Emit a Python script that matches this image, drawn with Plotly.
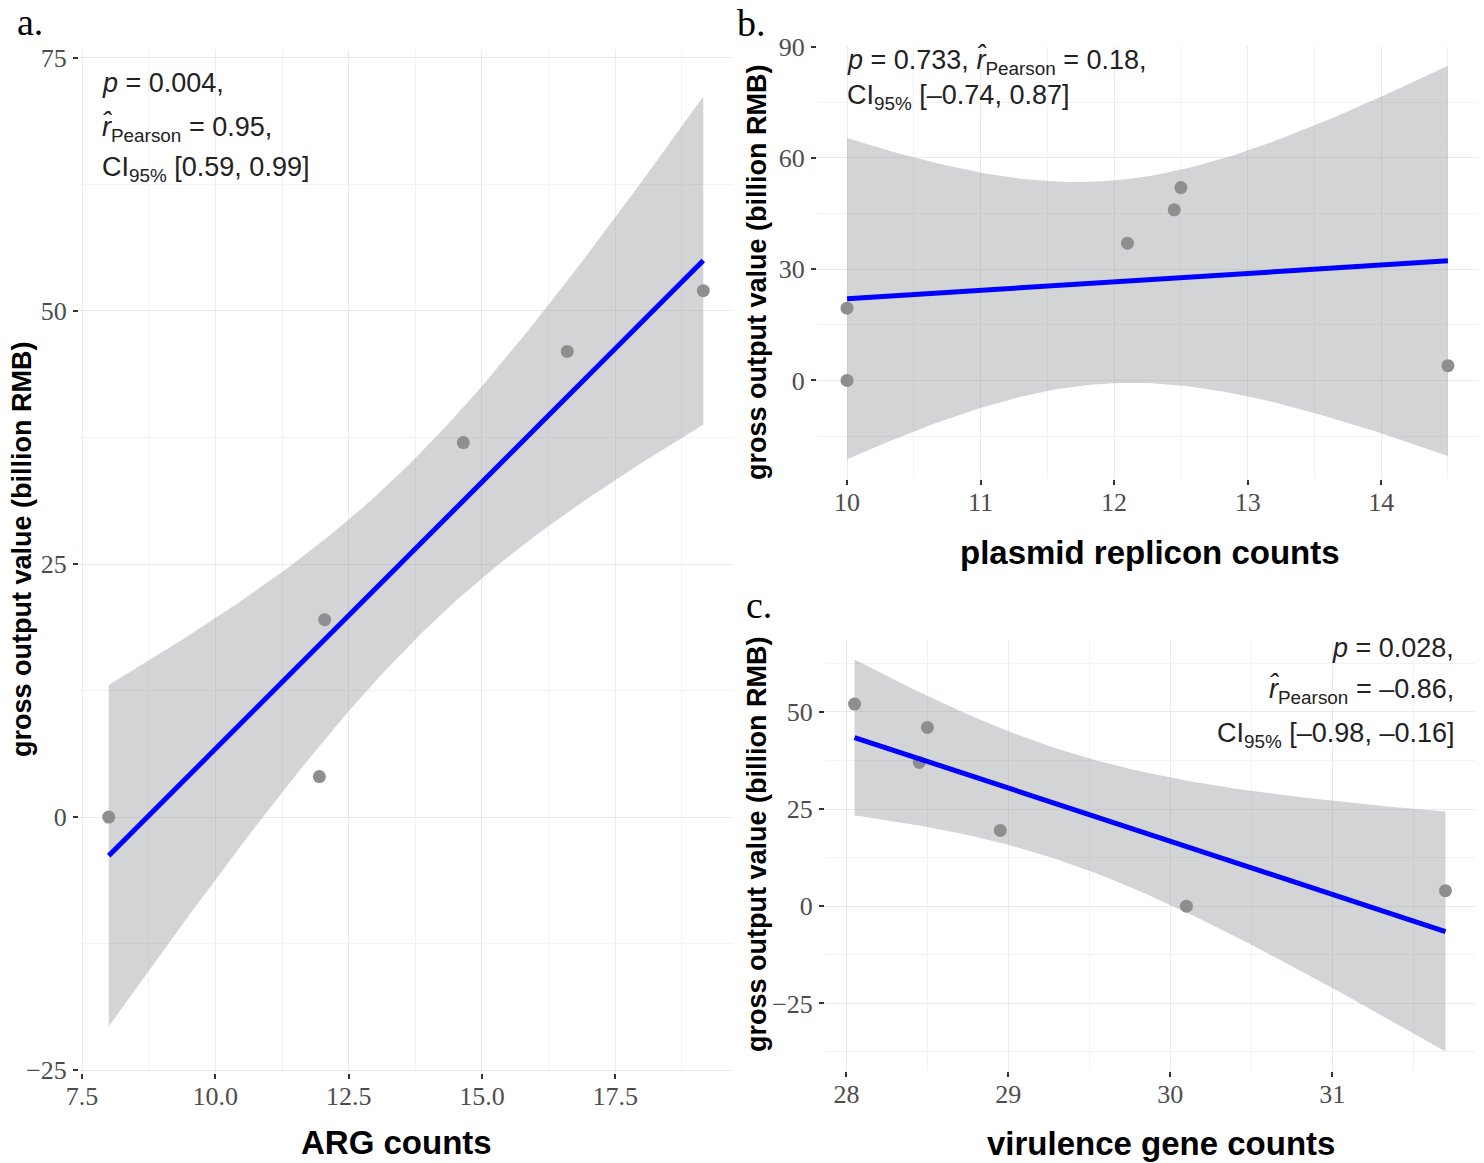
import numpy as np
import plotly.graph_objects as go

# ---------------- data ----------------
gross_output = [0.0, 4.0, 19.5, 37.0, 46.0, 52.0]          # billion RMB
arg_counts = [8.0, 11.95, 12.05, 14.65, 16.6, 19.15]
plasmid_counts = [10.0, 14.5, 10.0, 12.1, 12.45, 12.5]
virulence_counts = [30.1, 31.7, 28.95, 28.45, 28.5, 28.05]

stat_a = ["<i>p</i> = 0.004,",
          "<i>r\u0302</i><sub>Pearson</sub> = 0.95,",
          "CI<sub>95%</sub> [0.59, 0.99]"]
stat_b = ["<i>p</i> = 0.733, <i>r\u0302</i><sub>Pearson</sub> = 0.18,",
          "CI<sub>95%</sub> [\u20130.74, 0.87]"]
stat_c = ["<i>p</i> = 0.028,",
          "<i>r\u0302</i><sub>Pearson</sub> = \u20130.86,",
          "CI<sub>95%</sub> [\u20130.98, \u20130.16]"]

y_title = "gross output value (billion RMB)"
x_titles = ["ARG counts", "plasmid replicon counts", "virulence gene counts"]
panel_labels = ["a.", "b.", "c."]

T_CRIT = 2.776  # t quantile 0.975, df = 4 (n = 6)

W, H = 1484, 1163


def lm_fit(x, y, n=80):
    x = np.asarray(x, float)
    y = np.asarray(y, float)
    b1, b0 = np.polyfit(x, y, 1)
    resid = y - (b0 + b1 * x)
    s = np.sqrt((resid ** 2).sum() / (len(x) - 2))
    xs = np.linspace(x.min(), x.max(), n)
    yh = b0 + b1 * xs
    se = s * np.sqrt(1 / len(x) + (xs - x.mean()) ** 2 / ((x - x.mean()) ** 2).sum())
    return xs, yh, yh - T_CRIT * se, yh + T_CRIT * se


def expand(vals):
    lo, hi = float(np.min(vals)), float(np.max(vals))
    d = 0.05 * (hi - lo)
    return [lo - d, hi + d]


def px_x(p):
    return p / W


def px_y(p):
    return 1 - p / H


fig = go.Figure()

panels = [
    dict(x=arg_counts, ax="", xd=[79, 733], yd=[50, 1073], xdt=2.5, ydt=25, xfmt=".1f"),
    dict(x=plasmid_counts, ax="2", xd=[817, 1478], yd=[46, 479], xdt=1, ydt=30, xfmt=""),
    dict(x=virulence_counts, ax="3", xd=[825, 1475], yd=[640, 1071], xdt=1, ydt=25, xfmt=""),
]

tick_font = dict(family="Liberation Serif", size=26, color="#4D4D4D")
grid_major = "#EBEBEB"
grid_minor = "#F2F2F2"

for p in panels:
    xs, yh, lo, hi = lm_fit(p["x"], gross_output)
    xa = "x" + p["ax"]
    ya = "y" + p["ax"]
    fig.add_trace(go.Scatter(
        x=np.concatenate([xs, xs[::-1]]), y=np.concatenate([hi, lo[::-1]]),
        fill="toself", fillcolor="rgba(150,152,156,0.42)", line=dict(width=0),
        mode="lines", hoverinfo="skip", showlegend=False, xaxis=xa, yaxis=ya))
    fig.add_trace(go.Scatter(
        x=p["x"], y=gross_output, mode="markers",
        marker=dict(size=13, color="#8E8E8E"), showlegend=False, xaxis=xa, yaxis=ya))
    fig.add_trace(go.Scatter(
        x=xs, y=yh, mode="lines", line=dict(color="#0000FF", width=5),
        showlegend=False, xaxis=xa, yaxis=ya))

    xr = expand(p["x"])
    yr = expand(np.concatenate([gross_output, lo, hi]))
    xkey = "xaxis" + p["ax"]
    ykey = "yaxis" + p["ax"]
    fig.update_layout(**{
        xkey: dict(domain=[px_x(p["xd"][0]), px_x(p["xd"][1])], range=xr,
                   anchor=ya, tick0=0, dtick=p["xdt"], tickformat=p["xfmt"],
                   automargin=False,
                   showgrid=True, gridcolor=grid_major, gridwidth=1.2, zeroline=False,
                   showline=False, ticks="outside", ticklen=5, tickwidth=1.5,
                   tickcolor="#333333", tickfont=tick_font, ticklabelstandoff=-5,
                   minor=dict(dtick=p["xdt"] / 2, tick0=0, showgrid=True,
                              gridcolor=grid_minor, gridwidth=1)),
        ykey: dict(domain=[px_y(p["yd"][1]), px_y(p["yd"][0])], range=yr,
                   anchor=xa, tick0=0, dtick=p["ydt"], automargin=False,
                   showgrid=True, gridcolor=grid_major, gridwidth=1.2, zeroline=False,
                   showline=False, ticks="outside", ticklen=5, tickwidth=1.5,
                   tickcolor="#333333", tickfont=tick_font, ticklabelstandoff=1,
                   minor=dict(dtick=p["ydt"] / 2, tick0=0, showgrid=True,
                              gridcolor=grid_minor, gridwidth=1)),
    })

annotations = []
stat_font = dict(family="Liberation Sans", size=27, color="#222222")


def add_text(text, x, y, xanchor="left", font=stat_font, angle=0):
    annotations.append(dict(text=text, x=px_x(x), y=px_y(y), xref="paper", yref="paper",
                            xanchor=xanchor, yanchor="middle", showarrow=False,
                            font=font, textangle=angle))


for line, yy in zip(stat_a, [83, 128, 169]):
    add_text(line, 100, yy)
for line, yy in zip(stat_b, [62, 97]):
    add_text(line, 845, yy)
for line, yy in zip(stat_c, [648, 690, 735]):
    add_text(line, 1456, yy, xanchor="right")

xtitle_font = dict(family="Liberation Sans", size=33, color="#000000")
ytitle_font = dict(family="Liberation Sans", size=27, color="#000000")
for t, (xx, yy) in zip(x_titles, [(397, 1142), (1150, 553), (1161, 1143)]):
    add_text("<b>%s</b>" % t, xx, yy, xanchor="center", font=xtitle_font)
for xx, yy in [(22, 550), (757, 273), (757, 845)]:
    add_text("<b>%s</b>" % y_title, xx, yy, xanchor="center", font=ytitle_font, angle=-90)

label_font = dict(family="Liberation Serif", size=38, color="#000000")
for t, (xx, yy) in zip(panel_labels, [(30, 22), (751, 23), (759, 605)]):
    add_text(t, xx, yy, xanchor="center", font=label_font)

fig.update_layout(
    width=W, height=H, margin=dict(l=0, r=0, t=0, b=0, autoexpand=False),
    paper_bgcolor="white", plot_bgcolor="white", showlegend=False,
    annotations=annotations,
)

fig.write_html("out.html")
